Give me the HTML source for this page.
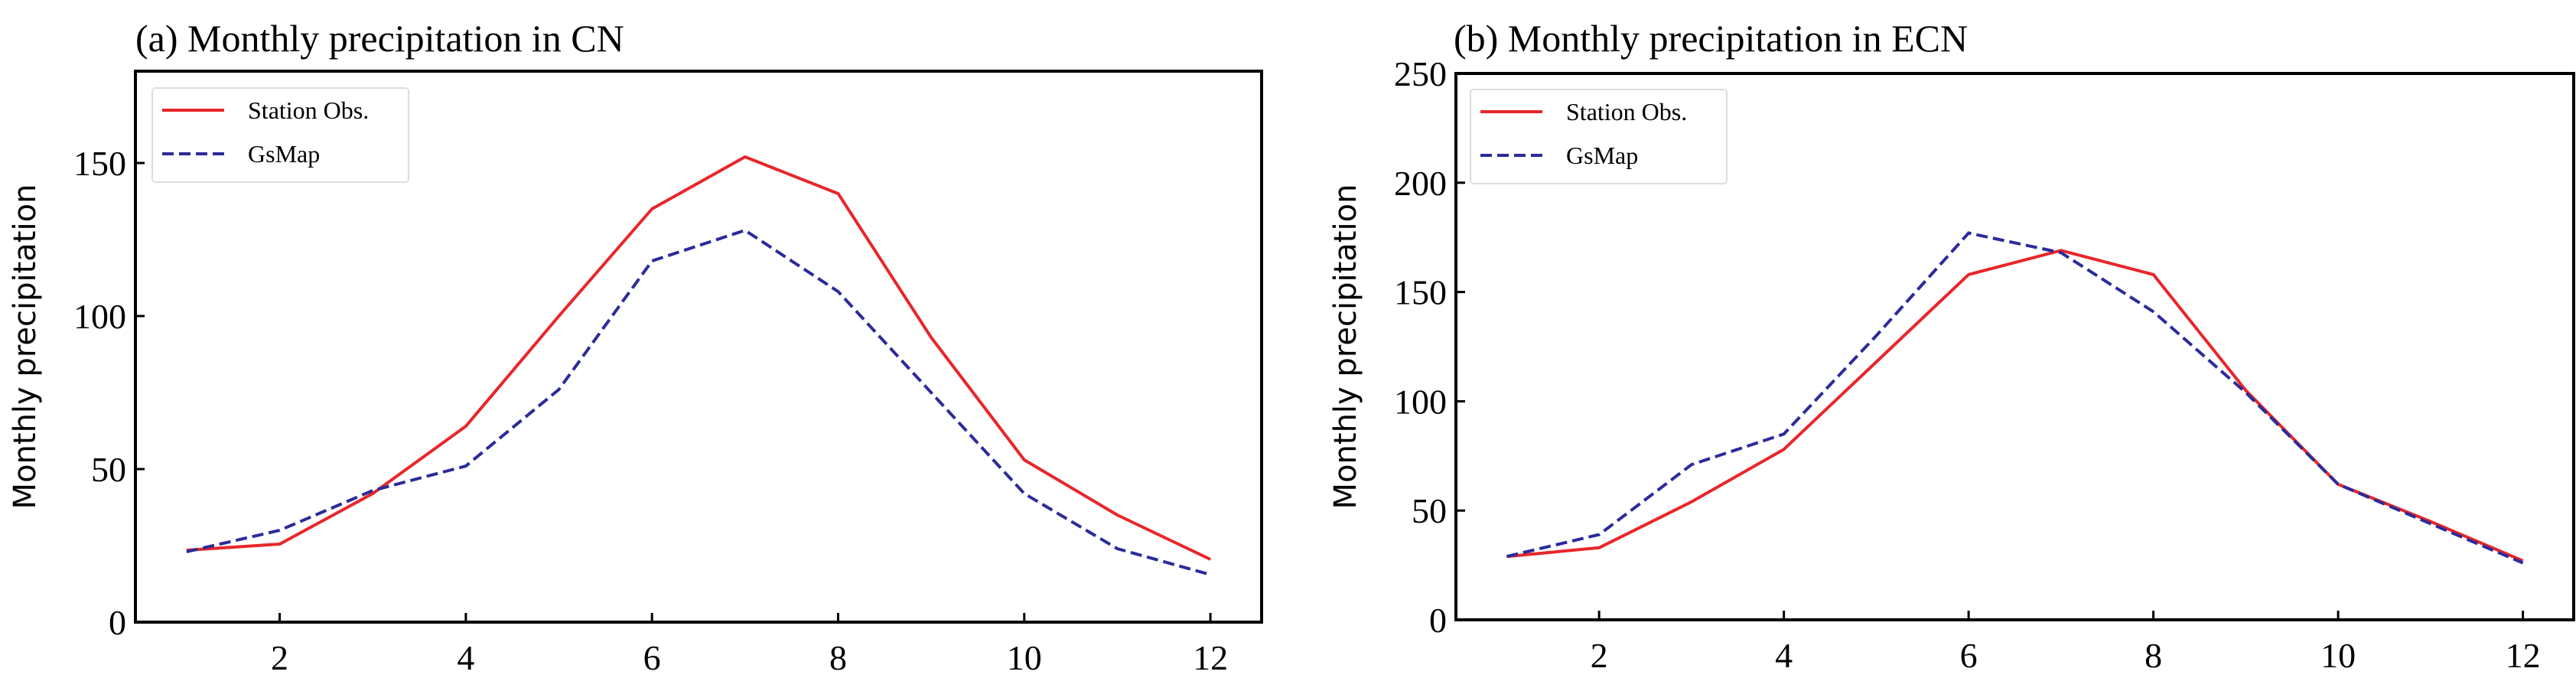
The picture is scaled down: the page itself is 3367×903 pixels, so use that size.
<!DOCTYPE html>
<html><head><meta charset="utf-8"><style>
html,body{margin:0;padding:0;background:#fff;}
svg{display:block;}
text{font-family:"Liberation Serif","DejaVu Serif",serif;fill:#000;}
.yl{font-family:"DejaVu Sans","Liberation Sans",sans-serif;}
</style></head><body>
<svg id="s" width="3367" height="903" viewBox="0 0 3367 903"></svg>
<script>
const months = [1,2,3,4,5,6,7,8,9,10,11,12];
const xTicks = [2,4,6,8,10,12];
const cnObs = [23.5,25.5,42,64,100,135,152,140,93,53,35,20.5];
const cnGs = [23,30,43,51,76,118,128,108,75,42,24,15.5];
const ecnObs = [29,33,54,78,118,158,169,158,105,62,45,27];
const ecnGs = [29,39,71,85,130,177,168,141,104,62,44,26];
const cnYTicks = [0,50,100,150];
const ecnYTicks = [0,50,100,150,200,250];

const NS = 'http://www.w3.org/2000/svg';
const svg = document.getElementById('s');
function mk(tag, attrs, parent){
  const e = document.createElementNS(NS, tag);
  for (const k in attrs) e.setAttribute(k, attrs[k]);
  (parent||svg).appendChild(e);
  return e;
}
function panel(cfg){
  const g = mk('g', {});
  
  
  const L=cfg.l, R=cfg.r, T=cfg.t, B=cfg.b;
  const xs = v => L + (v-0.45)/(12.55-0.45)*(R-L);
  const ys = v => B - v/cfg.ymax*(B-T);
  const title = mk('text', {x:cfg.tx, y:cfg.ty, 'font-size':50}, g);
  title.textContent = cfg.title;
  
  
  const yl = mk('text', {x:0, y:0, 'font-size':40, class:'yl', 'text-anchor':'middle', transform:`translate(${cfg.ylx},${(T+B)/2}) rotate(-90)`}, g);
  yl.textContent = 'Monthly precipitation';
  
  
  xTicks.forEach(v => {
    const ln = mk('line', {x1:xs(v), x2:xs(v), y1:B, y2:B-12, stroke:'#000', 'stroke-width':3}, g);
    
    
    const t = mk('text', {x:xs(v), y:B+62, 'font-size':46, 'text-anchor':'middle'}, g);
    t.textContent = v;
    
    
  });
  cfg.yticks.forEach(v => {
    const ln = mk('line', {x1:L, x2:L+12, y1:ys(v), y2:ys(v), stroke:'#000', 'stroke-width':3}, g);
    
    
    const t = mk('text', {x:L-12, y:ys(v)+16, 'font-size':46, 'text-anchor':'end'}, g);
    t.textContent = v;
    
    
  });
  const pts = arr => arr.map((v,i)=>xs(months[i]).toFixed(1)+','+ys(v).toFixed(1)).join(' ');
  const l1 = mk('polyline', {points:pts(cfg.obs), fill:'none', stroke:'#e8262a', 'stroke-width':4, 'stroke-linejoin':'round'}, g);
  
  
  const l2 = mk('polyline', {points:pts(cfg.gs), fill:'none', stroke:'#2b2b9a', 'stroke-width':4, 'stroke-dasharray':'15,7'}, g);
  
  
  const fr = mk('rect', {x:L, y:T, width:R-L, height:B-T, fill:'none', stroke:'#000', 'stroke-width':4}, g);
  
  
  const lg = mk('g', {}, g);
  
  
  mk('rect', {x:cfg.lx, y:cfg.ly, width:335, height:123, fill:'#fff', stroke:'#ddd', 'stroke-width':2, rx:4}, lg);
  mk('line', {x1:cfg.lx+13, x2:cfg.lx+94, y1:cfg.ly+29, y2:cfg.ly+29, stroke:'#e8262a', 'stroke-width':4}, lg);
  mk('line', {x1:cfg.lx+13, x2:cfg.lx+94, y1:cfg.ly+86, y2:cfg.ly+86, stroke:'#2b2b9a', 'stroke-width':4, 'stroke-dasharray':'15,7'}, lg);
  const a = mk('text', {x:cfg.lx+125, y:cfg.ly+40, 'font-size':32}, lg);
  a.textContent = 'Station Obs.';
  
  
  const b = mk('text', {x:cfg.lx+125, y:cfg.ly+97, 'font-size':32}, lg);
  b.textContent = 'GsMap';
  
  
}
panel({name:'panel-cn', l:177, r:1649, t:93, b:813, ymax:180, yticks:cnYTicks, obs:cnObs, gs:cnGs,
  title:'(a) Monthly precipitation in CN', tx:177, ty:67, ylx:46, lx:199, ly:115});
panel({name:'panel-ecn', l:1903, r:3364, t:96, b:810, ymax:250, yticks:ecnYTicks, obs:ecnObs, gs:ecnGs,
  title:'(b) Monthly precipitation in ECN', tx:1900, ty:67, ylx:1772, lx:1922, ly:117});
</script>
</body></html>
